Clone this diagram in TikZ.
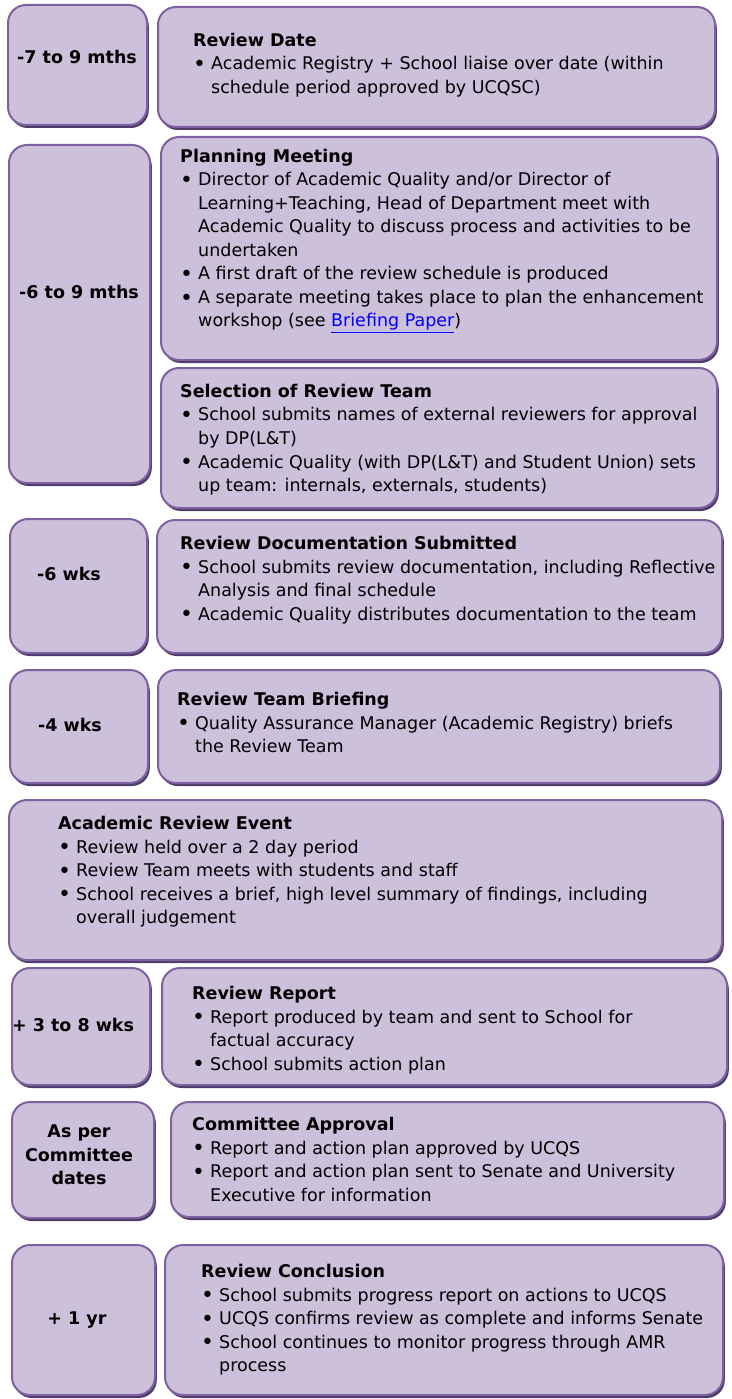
\documentclass[tikz,border=0pt]{standalone}
\usepackage{fontspec}
\setmainfont{DejaVu Sans}
\usetikzlibrary{shadows,fit}

\definecolor{boxfill}{HTML}{CCC0DA}
\definecolor{boxedge}{HTML}{7D61A0}
\definecolor{boxshade}{HTML}{4F3C69}
\definecolor{linkblue}{HTML}{0000FF}

\newcommand{\bul}{\makebox[18pt][l]{\raisebox{-1.6pt}{\scalebox{1.25}{\textbullet}}}}
\newcommand{\hang}{\hspace*{18pt}}
\newcommand{\weblink}[1]{\textcolor{linkblue}{\underline{#1}}}

\begin{document}
\begin{tikzpicture}[x=1pt, y=-1pt,
    stage/.style={draw=boxedge, line width=2pt, fill=boxfill, rounded corners=18pt, inner sep=0pt,
      drop shadow={shadow xshift=1.8pt, shadow yshift=-3pt, fill=boxshade, opacity=1}},
    when/.style={font=\fontsize{17.5}{23.5}\selectfont\bfseries, align=center},
    what/.style={font=\fontsize{17.5}{23.5}\selectfont, align=left, anchor=north west, inner sep=0pt}]

    \useasboundingbox (0,0) rectangle (731,1399);

    % Review date
    \node[stage, fit={(8,5) (147,125)}] (dateL) {};
    \node[stage, fit={(158,7) (715,127)}] (dateR) {};
    \node[when] (dateT) at (77,57) {-7 to 9 mths};
    \node[what] (dateX) at (193,33) {{\bfseries Review Date}\\
        \bul Academic Registry + School liaise over date (within\\
        \hang schedule period approved by UCQSC)};

    % Planning meeting and selection of the team
    \node[stage, fit={(9,145) (150,483)}] (planL) {};
    \node[stage, fit={(161,137) (717,360)}] (planR) {};
    \node[stage, fit={(161,368) (717,508)}] (teamR) {};
    \node[when] (planT) at (79,292) {-6 to 9 mths};
    \node[what] (planX) at (180,149) {{\bfseries Planning Meeting}\\
        \bul Director of Academic Quality and/or Director of\\
        \hang Learning+Teaching, Head of Department meet with\\
        \hang Academic Quality to discuss process and activities to be\\
        \hang undertaken\\
        \bul A first draft of the review schedule is produced\\
        \bul A separate meeting takes place to plan the enhancement\\
        \hang workshop (see \weblink{Briefing Paper})};
    \node[what] (teamX) at (180,384) {{\bfseries Selection of Review Team}\\
        \bul School submits names of external reviewers for approval\\
        \hang by DP(L\&T)\\
        \bul Academic Quality (with DP(L\&T) and Student Union) sets\\
        \hang up team: internals, externals, students)};

    % Documentation
    \node[stage, fit={(10,519) (147,653)}] (docsL) {};
    \node[stage, fit={(157,520) (722,653)}] (docsR) {};
    \node[when] (docsT) at (69,574) {-6 wks};
    \node[what] (docsX) at (180,536) {{\bfseries Review Documentation Submitted}\\
        \bul School submits review documentation, including Reflective\\
        \hang Analysis and final schedule\\
        \bul Academic Quality distributes documentation to the team};

    % Briefing
    \node[stage, fit={(10,670) (148,783)}] (briefL) {};
    \node[stage, fit={(158,670) (720,783)}] (briefR) {};
    \node[when] (briefT) at (70,725) {-4 wks};
    \node[what] (briefX) at (177,692) {{\bfseries Review Team Briefing}\\
        \bul Quality Assurance Manager (Academic Registry) briefs\\
        \hang the Review Team};

    % The event itself
    \node[stage, fit={(9,800) (722,960)}] (event) {};
    \node[what] (eventX) at (58,816) {{\bfseries Academic Review Event}\\
        \bul Review held over a 2 day period\\
        \bul Review Team meets with students and staff\\
        \bul School receives a brief, high level summary of findings, including\\
        \hang overall judgement};

    % Report
    \node[stage, fit={(12,968) (150,1085)}] (reportL) {};
    \node[stage, fit={(162,968) (727,1085)}] (reportR) {};
    \node[when] (reportT) at (73,1025) {+ 3 to 8 wks};
    \node[what] (reportX) at (192,986) {{\bfseries Review Report}\\
        \bul Report produced by team and sent to School for\\
        \hang factual accuracy\\
        \bul School submits action plan};

    % Approval
    \node[stage, fit={(12,1102) (154,1218)}] (approvL) {};
    \node[stage, fit={(171,1102) (724,1217)}] (approvR) {};
    \node[when] (approvT) at (79,1155) {As per\\Committee\\dates};
    \node[what] (approvX) at (192,1117) {{\bfseries Committee Approval}\\
        \bul Report and action plan approved by UCQS\\
        \bul Report and action plan sent to Senate and University\\
        \hang Executive for information};

    % Conclusion
    \node[stage, fit={(12,1245) (155,1395)}] (closeL) {};
    \node[stage, fit={(165,1245) (723,1395)}] (closeR) {};
    \node[when] (closeT) at (77,1320) {+ 1 yr};
    \node[what] (closeX) at (201,1264) {{\bfseries Review Conclusion}\\
        \bul School submits progress report on actions to UCQS\\
        \bul UCQS confirms review as complete and informs Senate\\
        \bul School continues to monitor progress through AMR\\
        \hang process};

\end{tikzpicture}
\end{document}
